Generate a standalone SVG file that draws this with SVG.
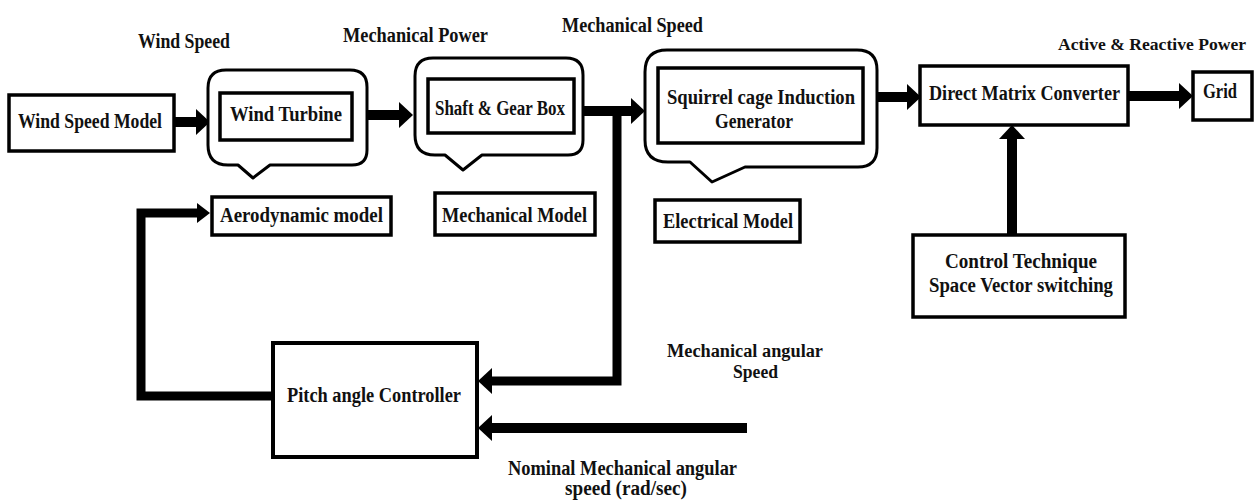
<svg xmlns="http://www.w3.org/2000/svg" width="1257" height="503" viewBox="0 0 1257 503">
<defs>
<style>
text{font-family:"Liberation Serif","DejaVu Serif",serif;font-weight:bold;font-size:20px;fill:#111;text-anchor:middle}
.sm{font-size:18px}
.xs{font-size:17px}
.box{fill:#fff;stroke:#000;stroke-width:3.5}
.pbox{fill:#fff;stroke:#000;stroke-width:4}
.call{fill:#fff;stroke:#000;stroke-width:3;stroke-linejoin:round}
.con{fill:none;stroke:#000;stroke-width:10;stroke-linejoin:miter}
.conl{fill:none;stroke:#000;stroke-width:9;stroke-linejoin:miter}
</style>
<marker id="ah" viewBox="0 0 14 26" refX="2" refY="13" markerWidth="14" markerHeight="26" markerUnits="userSpaceOnUse" orient="auto">
<path d="M0,0 L14,13 L0,26 Z" fill="#000"/>
</marker>
<marker id="ahs" viewBox="0 0 13 20" refX="2" refY="10" markerWidth="13" markerHeight="20" markerUnits="userSpaceOnUse" orient="auto">
<path d="M0,0 L13,10 L0,20 Z" fill="#000"/>
</marker>
</defs>
<rect width="1257" height="503" fill="#fff"/>

<g id="labels">
<text x="184" y="48" textLength="92" lengthAdjust="spacingAndGlyphs">Wind Speed</text>
<text x="415.5" y="42" textLength="145" lengthAdjust="spacingAndGlyphs">Mechanical Power</text>
<text x="632.5" y="32" textLength="141" lengthAdjust="spacingAndGlyphs">Mechanical Speed</text>
<text class="xs" x="1152" y="50" textLength="188" lengthAdjust="spacingAndGlyphs">Active &amp; Reactive Power</text>
<text class="sm" x="745" y="357" textLength="156" lengthAdjust="spacingAndGlyphs">Mechanical angular</text>
<text class="sm" x="755.5" y="378" textLength="45" lengthAdjust="spacingAndGlyphs">Speed</text>
<text x="622.5" y="475" textLength="229" lengthAdjust="spacingAndGlyphs">Nominal Mechanical angular</text>
<text x="626" y="495" textLength="122" lengthAdjust="spacingAndGlyphs">speed (rad/sec)</text>
</g>

<g id="connectors">
<line class="con" x1="174" y1="122" x2="198" y2="122" marker-end="url(#ah)"/>
<line class="con" x1="367" y1="115" x2="401" y2="115" marker-end="url(#ah)"/>
<line class="con" x1="583" y1="111" x2="633" y2="111" marker-end="url(#ah)"/>
<polyline class="conl" points="617,111 617,381 490,381" marker-end="url(#ah)"/>
<line class="con" x1="747" y1="428" x2="490" y2="428" marker-end="url(#ah)"/>
<polyline class="conl" points="273,396 141,396 141,213 199,213" marker-end="url(#ahs)"/>
<line class="con" x1="877" y1="97" x2="909" y2="97" marker-end="url(#ah)"/>
<line class="con" x1="1128" y1="96" x2="1181" y2="96" marker-end="url(#ah)"/>
<line class="con" x1="1012" y1="235" x2="1012" y2="137" marker-end="url(#ah)"/>
</g>

<g id="wind-speed-model">
<rect class="box" x="9" y="95" width="165" height="56"/>
<text x="90" y="128" textLength="144" lengthAdjust="spacingAndGlyphs">Wind Speed Model</text>
</g>

<g id="wind-turbine">
<path class="call" d="M226,70 H350 Q367,70 367,87 V150 Q367,165 352,165 H270 L253,178 L238,165 H228 Q208,165 208,145 V88 Q208,70 226,70 Z"/>
<rect class="box" x="220" y="93" width="132" height="47"/>
<text x="286" y="121" textLength="112" lengthAdjust="spacingAndGlyphs">Wind Turbine</text>
</g>

<g id="shaft-gear-box">
<path class="call" d="M433,58 H566 Q583,58 583,75 V140 Q583,155 568,155 H482 L463,170 L445,155 H435 Q415,155 415,135 V76 Q415,58 433,58 Z"/>
<rect class="box" x="428" y="79" width="146" height="54"/>
<text x="500" y="115" textLength="130" lengthAdjust="spacingAndGlyphs">Shaft &amp; Gear Box</text>
</g>

<g id="scig">
<path class="call" d="M667,50 H857 Q877,50 877,70 V148 Q877,167 858,167 H745 L712,182 L690,162 H668 Q645,162 645,140 V72 Q645,50 667,50 Z"/>
<rect class="box" x="658" y="68" width="205" height="75"/>
<text x="761" y="104" textLength="188" lengthAdjust="spacingAndGlyphs">Squirrel cage Induction</text>
<text x="754" y="128" textLength="78" lengthAdjust="spacingAndGlyphs">Generator</text>
</g>

<g id="direct-matrix-converter">
<rect class="box" x="920" y="66" width="208" height="59"/>
<text x="1024.5" y="100" textLength="191" lengthAdjust="spacingAndGlyphs">Direct Matrix Converter</text>
</g>

<g id="grid">
<rect class="box" x="1193" y="72" width="59" height="48"/>
<text x="1220" y="98" textLength="34" lengthAdjust="spacingAndGlyphs">Grid</text>
</g>

<g id="aerodynamic-model">
<rect class="box" x="212" y="197" width="179" height="38"/>
<text x="301.5" y="222" textLength="163" lengthAdjust="spacingAndGlyphs">Aerodynamic model</text>
</g>

<g id="mechanical-model">
<rect class="box" x="435" y="193" width="160" height="42"/>
<text x="514.5" y="222" textLength="145" lengthAdjust="spacingAndGlyphs">Mechanical Model</text>
</g>

<g id="electrical-model">
<rect class="box" x="655" y="200" width="145" height="42"/>
<text x="728" y="228" textLength="130" lengthAdjust="spacingAndGlyphs">Electrical Model</text>
</g>

<g id="control-technique">
<rect class="box" x="913" y="235" width="212" height="82"/>
<text x="1021" y="268" textLength="152" lengthAdjust="spacingAndGlyphs">Control Technique</text>
<text x="1021" y="292" textLength="184" lengthAdjust="spacingAndGlyphs">Space Vector switching</text>
</g>

<g id="pitch-angle-controller">
<rect class="pbox" x="273" y="343" width="204" height="114"/>
<text x="374" y="402" textLength="174" lengthAdjust="spacingAndGlyphs">Pitch angle Controller</text>
</g>
</svg>
